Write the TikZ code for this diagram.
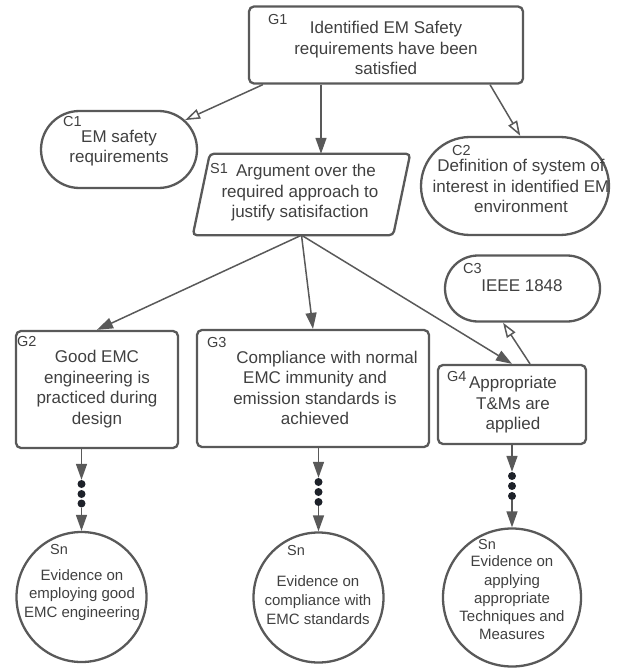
\documentclass[tikz,border=0pt]{standalone}
\usepackage{fontspec}
\setmainfont{Liberation Sans}
\usetikzlibrary{shapes.geometric,shapes.misc,arrows.meta,calc}
\definecolor{lc}{HTML}{595959}
\definecolor{tc}{HTML}{404040}
\definecolor{dc}{HTML}{1E222A}
\begin{document}
\begin{tikzpicture}[x=1pt,y=-1pt,
 box/.style={draw=lc, line width=2.3pt, rounded corners=5pt, inner sep=0pt},
 ctx/.style={draw=lc, line width=2.3pt, rounded rectangle, rounded rectangle arc length=180, inner sep=0pt},
 sol/.style={draw=lc, line width=2.3pt, circle, inner sep=0pt},
 txt/.style={text=tc, align=center, inner sep=0pt, font=\fontsize{17}{20.5}\selectfont},
 stxt/.style={text=tc, align=center, inner sep=0pt, font=\fontsize{15}{18.7}\selectfont},
 lbl/.style={text=tc, anchor=west, inner sep=0pt, font=\fontsize{14.5}{17}\selectfont},
 arr/.style={draw=lc, line width=1.5pt, -{Triangle[length=16pt,width=11pt]}},
 oarr/.style={draw=lc, line width=1.5pt, -{Triangle[open,length=15pt,width=10pt,fill=white]}},
 dot/.style={circle, fill=dc, minimum size=8pt, inner sep=0pt},
 shapeline/.style={draw=lc, line width=2.3pt},
]
\useasboundingbox (0,0) rectangle (624,671);

% G1
\node[box, minimum width=274pt, minimum height=77pt] (G1) at (386,45) {};
\node[txt] (G1t) at (386,48) {Identified EM Safety\\requirements have been\\satisfied};
\node[lbl] (G1l) at (268,20) {G1};

% C1
\node[ctx, minimum width=156pt, minimum height=77pt] (C1) at (119,149.5) {};
\node[txt] (C1t) at (119,148) {EM safety\\requirements};
\node[lbl] (C1l) at (63,121.5) {C1};

% S1 (parallelogram)
\node[minimum width=217pt, minimum height=81pt, inner sep=0pt] (S1) at (301.5,194.5) {};
\draw[shapeline, rounded corners=4pt] (S1.south west) -- ([xshift=-17pt]S1.south east)
  -- (S1.north east) -- ([xshift=17pt]S1.north west) -- cycle;
\node[txt] (S1t) at (300,193) {\hspace*{12pt}Argument over the\\required approach to\\justify satisifaction};
\node[lbl] (S1l) at (210,169) {S1};

% C2
\node[ctx, minimum width=188pt, minimum height=98pt] (C2) at (515,186) {};
\node[txt] (C2t) at (521,186) {Definition of system of\\interest in identified EM\\environment};
\node[lbl] (C2l) at (452,151) {C2};

% C3
\node[ctx, minimum width=155pt, minimum height=66pt] (C3) at (522.5,288.5) {};
\node[txt] (C3t) at (522,286) {IEEE 1848};
\node[lbl] (C3l) at (463,269) {C3};

% G2
\node[box, minimum width=162pt, minimum height=117pt] (G2) at (97,389.5) {};
\node[txt] (G2t) at (97,389) {Good EMC\\engineering is\\practiced during\\design};
\node[lbl] (G2l) at (17,342) {G2};

% G3
\node[box, minimum width=232pt, minimum height=117pt] (G3) at (313,388.5) {};
\node[txt] (G3t) at (315,388) {\hspace*{24pt}Compliance with normal\\EMC immunity and\\emission standards is\\achieved};
\node[lbl] (G3l) at (207,343) {G3};

% G4
\node[box, minimum width=148pt, minimum height=79pt] (G4) at (512,404.5) {};
\node[txt] (G4t) at (513,405) {Appropriate\\T\&Ms are\\applied};
\node[lbl] (G4l) at (447,377) {G4};

% Solutions
\node[sol, minimum size=130pt] (Sn1) at (81.5,597) {};
\node[stxt] (Sn1t) at (82,595) {Evidence on\\employing good\\EMC engineering};
\node[lbl] (Sn1l) at (50,550) {Sn};

\node[sol, minimum size=130pt] (Sn2) at (318.5,597.5) {};
\node[stxt] (Sn2t) at (318,600) {Evidence on\\compliance with\\EMC standards};
\node[lbl] (Sn2l) at (287,551) {Sn};

\node[sol, minimum size=138pt] (Sn3) at (512,597.5) {};
\node[stxt, font=\fontsize{15}{18.3}\selectfont] (Sn3t) at (512,598) {Evidence on\\applying\\appropriate\\Techniques and\\Measures};
\node[lbl] (Sn3l) at (478,545) {Sn};

% dots
\node[dot] (d11) at (81.5,484) {};
\node[dot] (d12) at (81.5,494) {};
\node[dot] (d13) at (81.5,503.5) {};
\node[dot] (d21) at (318.5,482) {};
\node[dot] (d22) at (318.5,492) {};
\node[dot] (d23) at (318.5,502) {};
\node[dot] (d31) at (512,476) {};
\node[dot] (d32) at (512,486) {};
\node[dot] (d33) at (512,496) {};

% connectors
\draw[oarr] ([xshift=15pt]G1.south west) -- (C1.24);
\draw[arr] ([xshift=-65pt]G1.south) -- ([xshift=-65pt]G1.south |- S1.north);
\draw[oarr] ([xshift=104pt]G1.south) -- (C2.84);
\draw[arr] (S1.south) -- (G2.north);
\draw[arr] (S1.south) -- (G3.north);
\draw[arr] (S1.south) -- (G4.north);
\draw[oarr] ([xshift=18pt]G4.north) -- ([xshift=-19.5pt]C3.south);
\draw[arr] ([xshift=-15.5pt]G2.south) -- (d11);
\draw[arr] (d13) -- (Sn1);
\draw[arr] ([xshift=5.5pt]G3.south) -- (d21);
\draw[arr] (d23) -- (Sn2);
\draw[arr] (G4.south) -- (d31);
\draw[arr] (d33) -- (Sn3);
\end{tikzpicture}
\end{document}
